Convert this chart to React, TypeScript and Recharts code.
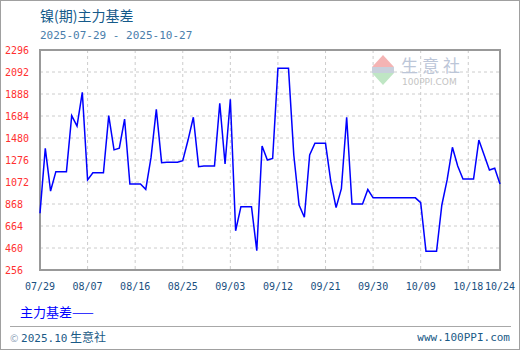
import React from "react";
import {
  LineChart,
  Line,
  XAxis,
  YAxis,
  CartesianGrid,
  ReferenceArea,
} from "recharts";

// 镍(期)主力基差, one value per calendar day from 07/29 to 10/24
const basis = [
  782, 1384, 988, 1168, 1168, 1168, 1687, 1591, 1904, 1091,
  1158, 1158, 1158, 1687, 1370, 1385, 1656, 1053, 1053, 1053,
  1004, 1300, 1746, 1251, 1255, 1255, 1255, 1270, 1461, 1672,
  1214, 1220, 1220, 1220, 1802, 1239, 1839, 620, 843, 843,
  843, 435, 1406, 1276, 1290, 2126, 2126, 2126, 1322, 859,
  745, 1322, 1431, 1431, 1431, 1075, 834, 1010, 1672, 868,
  868, 868, 1002, 925, 925, 925, 925, 925, 925, 925,
  925, 925, 880, 429, 429, 429, 859, 1091, 1394, 1220,
  1100, 1100, 1100, 1461, 1322, 1183, 1200, 1053,
];

const pad = (n: number) => (n < 10 ? "0" + n : "" + n);
const dates = basis.map((_, i) => {
  const d = new Date(2025, 6, 29 + i);
  return `${pad(d.getMonth() + 1)}/${pad(d.getDate())}`;
});

const xTicks = ["07/29", "08/07", "08/16", "08/25", "09/03", "09/12", "09/21", "09/30", "10/09", "10/18", "10/24"];
const yTicks = [256, 460, 664, 868, 1072, 1276, 1480, 1684, 1888, 2092, 2296];

const data = dates.map((date, i) => ({ date, value: basis[i] }));

const mono = "'DejaVu Sans Mono', monospace";
const cjk = "'Noto Sans CJK SC', sans-serif";

const YTick = ({ y, payload }: any) => (
  <text x={5} y={y} dy={4} fill="#ff3030" fontSize={10} fontFamily={mono}>
    {payload.value}
  </text>
);

const XTick = ({ x, y, payload }: any) => (
  <text x={x} y={y} dy={12} fill="#1a4f80" fontSize={10} fontFamily={mono} textAnchor="middle">
    {payload.value}
  </text>
);

export default function App() {
  return (
    <div
      style={{
        position: "absolute",
        left: 0,
        top: 0,
        width: 520,
        height: 350,
        boxSizing: "border-box",
        border: "1px solid #a0a0a0",
        background: "#fff",
        overflow: "hidden",
      }}
    >
      <div style={{ position: "absolute", left: -1, top: -1 }}>
        <LineChart width={520} height={350} data={data} margin={{ top: 50, right: 20, left: 0, bottom: 50 }}>
          <CartesianGrid stroke="#cccccc" strokeDasharray="3 3" />
          <XAxis
            dataKey="date"
            ticks={xTicks}
            interval={0}
            height={30}
            tick={<XTick />}
            tickLine={false}
            axisLine={false}
          />
          <YAxis
            domain={[256, 2296]}
            ticks={yTicks}
            interval={0}
            width={40}
            tick={<YTick />}
            tickLine={false}
            axisLine={false}
            allowDataOverflow
          />
          <ReferenceArea
            x1="07/29"
            x2="10/24"
            y1={256}
            y2={2296}
            fill="none"
            stroke="#999999"
            strokeWidth={2}
          />
          <Line
            type="linear"
            dataKey="value"
            stroke="#0000ff"
            strokeWidth={1.5}
            dot={false}
            isAnimationActive={false}
          />
        </LineChart>
      </div>

      {/* title */}
      <div style={{ position: "absolute", left: 39, top: 4, fontSize: 14, fontFamily: cjk, color: "#155a8a", lineHeight: "20px" }}>
        镍(期)主力基差
      </div>
      <div style={{ position: "absolute", left: 39, top: 27, fontSize: 11, fontFamily: mono, color: "#4a7eab", lineHeight: "16px", whiteSpace: "pre" }}>
        2025-07-29 - 2025-10-27
      </div>

      {/* watermark */}
      <svg style={{ position: "absolute", left: 370, top: 53 }} width={26} height={34}>
        <polygon points="12,1 1,13 23,13" fill="#f4b4b4" />
        <rect x={1} y={13} width={22} height={6} fill="#c8d0dc" />
        <polygon points="1,19 23,19 12,31" fill="#bfe6c4" />
      </svg>
      <div style={{ position: "absolute", left: 400, top: 53, fontSize: 17, fontFamily: cjk, color: "#bcc6d8", lineHeight: "22px", letterSpacing: 4, whiteSpace: "nowrap" }}>
        生意社
      </div>
      <div style={{ position: "absolute", left: 401, top: 75, fontSize: 9, fontFamily: "'DejaVu Sans', sans-serif", color: "#c4c4c4", lineHeight: "12px", whiteSpace: "nowrap" }}>
        100PPI.COM
      </div>

      {/* legend */}
      <div style={{ position: "absolute", left: 19, top: 302, fontSize: 13, fontFamily: cjk, color: "#0000ff", lineHeight: "18px" }}>
        主力基差——
      </div>

      {/* footer */}
      <div style={{ position: "absolute", left: 9, top: 325, width: 501, borderTop: "1px solid #a8a8a8" }} />
      <div style={{ position: "absolute", left: 9, top: 328, fontSize: 12, fontFamily: cjk, color: "#1a5a86", lineHeight: "16px", whiteSpace: "pre" }}>
        <span style={{ color: "#8aa0b8", fontSize: 10 }}>©</span> <span style={{ fontFamily: mono, fontSize: 11 }}>2025.10</span> 生意社
      </div>
      <div style={{ position: "absolute", right: 9, top: 329, fontSize: 11, fontFamily: mono, color: "#1a5a86", lineHeight: "16px" }}>
        www.100PPI.com
      </div>
    </div>
  );
}
